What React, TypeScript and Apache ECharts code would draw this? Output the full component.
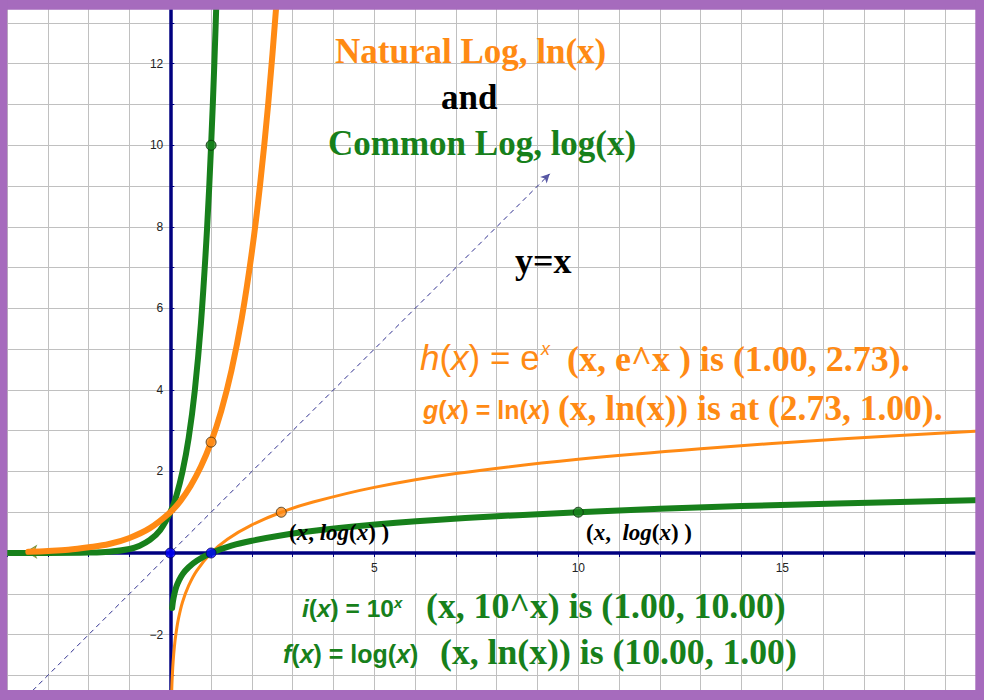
import React, { useEffect, useRef } from 'react';
import * as echarts from 'echarts';

// ---- data ----
const lnCurve: number[][] = [
  [0.03, -3.51], [0.04, -3.22], [0.05, -3.0], [0.07, -2.66], [0.1, -2.3], [0.14, -1.97],
  [0.2, -1.61], [0.3, -1.2], [0.45, -0.8], [0.65, -0.43], [1, 0], [1.4, 0.34], [2, 0.69],
  [2.72, 1], [3.5, 1.25], [5, 1.61], [7, 1.95], [10, 2.3], [13, 2.56], [16.5, 2.8], [20, 3.0],
];
const logCurve: number[][] = [
  [0.045, -1.35], [0.06, -1.22], [0.08, -1.1], [0.11, -0.96], [0.15, -0.82], [0.2, -0.7],
  [0.3, -0.52], [0.45, -0.35], [0.65, -0.19], [1, 0], [1.5, 0.18], [2, 0.3], [3, 0.48],
  [4.5, 0.65], [6.5, 0.81], [10, 1], [14, 1.15], [20, 1.3],
];
const expCurve: number[][] = [
  [-3.48, 0.03], [-3, 0.05], [-2.5, 0.08], [-2, 0.14], [-1.5, 0.22], [-1, 0.37], [-0.5, 0.61],
  [0, 1], [0.25, 1.28], [0.5, 1.65], [0.75, 2.12], [1, 2.72], [1.25, 3.49], [1.5, 4.48],
  [1.75, 5.75], [2, 7.39], [2.2, 9.03], [2.4, 11.02], [2.6, 13.46], [2.7, 14.88],
];
const tenCurve: number[][] = [
  [-4, 0.0001], [-3, 0.001], [-2, 0.01], [-1.5, 0.03], [-1, 0.1], [-0.75, 0.18], [-0.5, 0.32],
  [-0.25, 0.56], [0, 1], [0.15, 1.41], [0.3, 2.0], [0.45, 2.82], [0.6, 3.98], [0.75, 5.62],
  [0.9, 7.94], [1, 10], [1.08, 12.02], [1.16, 14.45],
];
const identityLine: number[][] = [[-4, -4], [9.3, 9.3]];
const identityArrow: number[][] = [[9.3, 9.3]];
const expArrow: number[][] = [[-3.48, 0.03]];
const orangePoints: number[][] = [[1, 2.72], [2.72, 1]];
const greenPoints: number[][] = [[1, 10], [10, 1]];
const bluePoints: number[][] = [[0, 0], [1, 0]];
const xTickLabels = [5, 10, 15];
const yTickLabels = [-2, 2, 4, 6, 8, 10, 12];

// ---- layout / styles ----
const X_ZERO_PX = 170.3;
const Y_ZERO_PX = 553;
const GRID_LEFT = 7.1;
const GRID_BOTTOM_PX = 716.1;

const ORANGE = '#ff8a14';
const GREEN = '#17801b';
const NAVY = '#000080';
const PURPLE = '#a66bbd';
const SERIF = '"Liberation Serif", "Times New Roman", serif';
const SANS = '"Liberation Sans", Arial, sans-serif';

const serif = (size: number, italic = false) => `${italic ? 'italic ' : ''}bold ${size}px ${SERIF}`;
const sans = (size: number, italic = false, bold = false) =>
  `${italic ? 'italic ' : ''}${bold ? 'bold ' : ''}${size}px ${SANS}`;

const txt = (x: number, y: number, text: string, font: string, fill: string, rich?: any) => ({
  type: 'text',
  x,
  y,
  z: 50,
  style: {
    text,
    font,
    fill,
    align: 'left',
    verticalAlign: 'middle',
    textAlign: 'left',
    textVerticalAlign: 'middle',
    ...(rich ? { rich } : {}),
  },
});

const richSans = (size: number, bold: boolean) => ({
  n: { font: sans(size, false, bold) },
  i: { font: sans(size, true, bold) },
});
const richSerif = (size: number) => ({
  n: { font: serif(size) },
  i: { font: serif(size, true) },
});

const fmtMinus = (v: number) => (v < 0 ? '\u2212' + Math.abs(v) : String(v));

export default function App() {
  const ref = useRef<HTMLDivElement>(null);

  useEffect(() => {
    const chart = echarts.init(ref.current!, null, { renderer: 'svg' });

    const curve = (data: number[][], color: string, width: number) => ({
      type: 'line',
      data,
      smooth: 0.35,
      symbol: 'none',
      lineStyle: { color, width, cap: 'round', join: 'round' },
      silent: true,
    });

    const option: any = {
      animation: false,
      backgroundColor: '#ffffff',
      grid: {
        left: GRID_LEFT,
        right: -2.3,
        top: -17.8,
        bottom: 700 - GRID_BOTTOM_PX,
        containLabel: false,
        outerBoundsMode: 'none',
      },
      xAxis: {
        type: 'value',
        position: 'bottom',
        offset: -(GRID_BOTTOM_PX - Y_ZERO_PX),
        min: -4,
        max: 20,
        interval: 1,
        axisLine: { onZero: false, lineStyle: { color: NAVY, width: 3.5 } },
        axisTick: { show: true, length: 4, lineStyle: { color: NAVY, width: 1 } },
        axisLabel: {
          margin: 9,
          fontSize: 12,
          fontFamily: SANS,
          color: '#222',
          formatter: (v: number) => (xTickLabels.includes(Math.round(v)) ? fmtMinus(Math.round(v)) : ''),
        },
        splitLine: { show: true, lineStyle: { color: '#c0c0c0', width: 1 } },
      },
      yAxis: {
        type: 'value',
        position: 'left',
        offset: -(X_ZERO_PX - GRID_LEFT),
        min: -4,
        max: 14,
        interval: 1,
        axisLine: { onZero: false, lineStyle: { color: NAVY, width: 3.5 } },
        axisTick: { show: true, inside: true, length: 4, lineStyle: { color: NAVY, width: 1 } },
        axisLabel: {
          margin: 7,
          fontSize: 12,
          fontFamily: SANS,
          color: '#222',
          formatter: (v: number) => (yTickLabels.includes(Math.round(v)) ? fmtMinus(Math.round(v)) : ''),
        },
        splitLine: { show: true, lineStyle: { color: '#c0c0c0', width: 1 } },
      },
      series: [
        {
          type: 'line',
          data: identityLine,
          symbol: 'none',
          lineStyle: { color: '#2f2f8f', width: 1, type: [5, 4] },
          silent: true,
        },
        {
          type: 'scatter',
          data: identityArrow,
          symbol: 'arrow',
          symbolSize: [7, 9],
          symbolRotate: -45,
          itemStyle: { color: '#2f2f8f' },
          silent: true,
        },
        curve(lnCurve, ORANGE, 3),
        curve(logCurve, GREEN, 6),
        curve(tenCurve, GREEN, 6),
        curve(expCurve, ORANGE, 6),
        {
          type: 'scatter',
          data: expArrow,
          symbol: 'arrow',
          symbolSize: [9, 10],
          symbolRotate: 90,
          symbolOffset: [-2, 0],
          itemStyle: { color: ORANGE, borderColor: '#5a8a2a', borderWidth: 1 },
          silent: true,
        },
        {
          type: 'scatter',
          data: orangePoints,
          symbolSize: 10,
          itemStyle: { color: ORANGE, borderColor: '#3a2a10', borderWidth: 1 },
          silent: true,
          z: 5,
        },
        {
          type: 'scatter',
          data: greenPoints,
          symbolSize: 10,
          itemStyle: { color: GREEN, borderColor: '#0a300a', borderWidth: 1 },
          silent: true,
          z: 5,
        },
        {
          type: 'scatter',
          data: bluePoints,
          symbolSize: 10,
          itemStyle: { color: '#0000ff', borderColor: '#000060', borderWidth: 1 },
          silent: true,
          z: 5,
        },
      ],
      graphic: {
        elements: [
          txt(335, 51, 'Natural Log, ln(x)', serif(35), ORANGE),
          txt(441, 97, 'and', serif(35), '#000000'),
          txt(328, 143, 'Common Log, log(x)', serif(35), GREEN),
          txt(515, 261, 'y=x', serif(36), '#000000'),

          txt(420, 357, '{i|h}{n|(}{i|x}{n|) = e}', sans(35), ORANGE, richSans(35, false)),
          txt(541, 349, 'x', sans(18, true), ORANGE),
          txt(567, 359, '(x, e^x ) is (1.00, 2.73).', serif(36), ORANGE),

          txt(423, 410, '{i|g}{n|(}{i|x}{n|) = ln(}{i|x}{n|)}', sans(25, false, true), ORANGE, richSans(25, true)),
          txt(558, 408, '(x, ln(x)) is at (2.73, 1.00).', serif(35.5), ORANGE),

          txt(289, 532, '{n|(}{i|x}{n|, }{i|log}{n|(}{i|x}{n|) )}', serif(23), '#000000', richSerif(23)),
          txt(586, 532, '{n|(}{i|x}{n|,  }{i|log}{n|(}{i|x}{n|) )}', serif(23), '#000000', richSerif(23)),

          txt(302, 608, '{i|i}{n|(}{i|x}{n|) = 10}', sans(24.5, false, true), GREEN, richSans(24.5, true)),
          txt(394, 602, 'x', sans(15, true, true), GREEN),
          txt(426, 606, '(x, 10^x) is (1.00, 10.00)', serif(35.7), GREEN),

          txt(283, 654, '{i|f}{n|(}{i|x}{n|) = log(}{i|x}{n|)}', sans(25, false, true), GREEN, richSans(25, true)),
          txt(440, 652, '(x, ln(x)) is (10.00, 1.00)', serif(35.7), GREEN),

          { type: 'rect', z: 100, shape: { x: 0, y: 0, width: 984, height: 9.7 }, style: { fill: PURPLE } },
          { type: 'rect', z: 100, shape: { x: 0, y: 0, width: 7.3, height: 700 }, style: { fill: PURPLE } },
          { type: 'rect', z: 100, shape: { x: 975.3, y: 0, width: 8.7, height: 700 }, style: { fill: PURPLE } },
          { type: 'rect', z: 100, shape: { x: 0, y: 690, width: 984, height: 10 }, style: { fill: PURPLE } },
        ],
      },
    };

    chart.setOption(option);
    return () => chart.dispose();
  }, []);

  return (
    <div
      ref={ref}
      style={{ position: 'fixed', left: 0, top: 0, width: 984, height: 700, background: '#ffffff' }}
    />
  );
}
